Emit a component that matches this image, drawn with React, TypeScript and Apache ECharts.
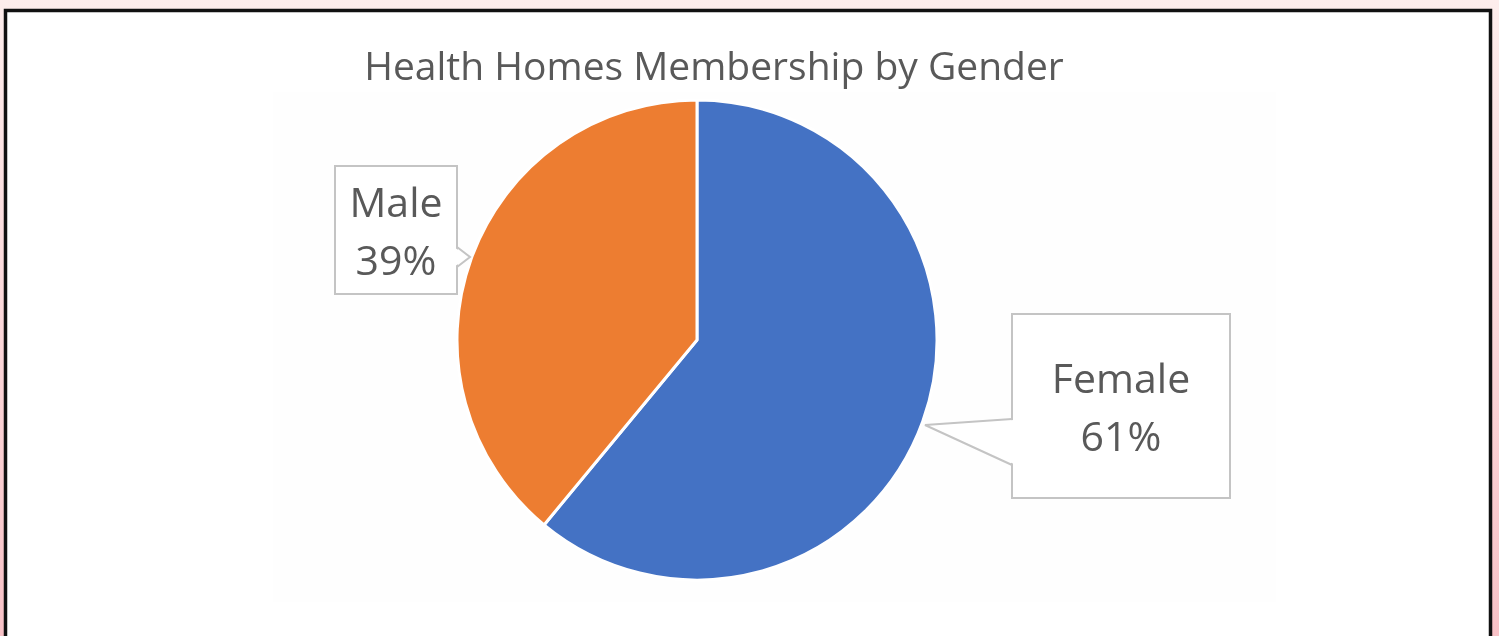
import React, { useEffect, useRef } from "react";
import * as echarts from "echarts";

const TITLE = "Health Homes Membership by Gender";
const categories = ["Female", "Male"];
const values = [61, 39];
const colors = ["#4472C4", "#ED7D31"];

const FONT = "'Open Sans', 'Noto Sans', sans-serif";

// label box styles (by category)
const labelBox: Record<string, any> = {
  Female: { width: 216, padding: [33, 0, 33, 0], cx: 1121, cy: 406 },
  Male: { width: 120, padding: [5, 0, 5, 0], cx: 396, cy: 230 },
};

export default function App() {
  const ref = useRef<HTMLDivElement>(null);
  useEffect(() => {
    if (!ref.current) return;
    const chart = echarts.init(ref.current, undefined, { renderer: "svg" });
    const data = categories.map((name, i) => {
      const b = labelBox[name];
      return {
        name,
        value: values[i],
        itemStyle: { color: colors[i] },
        label: {
          padding: b.padding,
          rich: {
            t: {
              width: b.width,
              align: "center",
              fontSize: 41,
              lineHeight: 58,
              color: "#595959",
              fontFamily: FONT,
            },
          },
        },
      };
    });
    chart.setOption({
      animation: false,
      graphic: [
        {
          type: "rect",
          z: -100,
          silent: true,
          shape: { x: 0, y: 0, width: 1499, height: 636 },
          style: {
            fill: new echarts.graphic.LinearGradient(0, 0, 0, 1, [
              { offset: 0, color: "#FDEDEC" },
              { offset: 1, color: "#F8C2C7" },
            ]),
          },
        },
        {
          type: "rect",
          z: -99,
          silent: true,
          shape: { x: 5.5, y: 10.5, width: 1485, height: 700 },
          style: { fill: "#ffffff", stroke: "#111111", lineWidth: 3.5 },
        },
        {
          type: "rect",
          z: -98,
          silent: true,
          shape: { x: 273, y: 92, width: 1003, height: 510 },
          style: { fill: "#fefefe" },
        },
        {
          type: "polygon",
          z: 100,
          silent: true,
          shape: { points: [[1014, 420], [925, 425], [1014, 464]] },
          style: { fill: "#ffffff" },
        },
        {
          type: "polyline",
          z: 101,
          silent: true,
          shape: { points: [[1012, 419], [925, 425], [1012, 465]] },
          style: { stroke: "#c4c4c4", lineWidth: 2, fill: null },
        },
        {
          type: "polygon",
          z: 100,
          silent: true,
          shape: { points: [[455, 248], [470, 257], [455, 266]] },
          style: { fill: "#ffffff" },
        },
        {
          type: "polyline",
          z: 101,
          silent: true,
          shape: { points: [[457, 247], [470, 257], [457, 267]] },
          style: { stroke: "#c4c4c4", lineWidth: 2, fill: null },
        },
      ],
      title: {
        text: TITLE,
        left: 709,
        top: 40,
        textAlign: "center",
        textStyle: {
          fontFamily: FONT,
          fontSize: 39,
          fontWeight: "normal",
          color: "#595959",
        },
      },
      series: [
        {
          type: "pie",
          center: [697, 340],
          radius: 240,
          startAngle: 90,
          clockwise: true,
          data,
          itemStyle: { borderColor: "#ffffff", borderWidth: 3 },
          emphasis: { disabled: true },
          label: {
            show: true,
            position: "outside",
            formatter: "{t|{b}}\n{t|{d}%}",
            backgroundColor: "#ffffff",
            borderColor: "#c4c4c4",
            borderWidth: 2,
          },
          labelLine: { show: false },
          labelLayout: (p: any) => {
            const b = labelBox[categories[p.dataIndex]];
            return { x: b.cx, y: b.cy, align: "center", verticalAlign: "middle" };
          },
        },
      ],
    });
    return () => chart.dispose();
  }, []);
  return (
    <div
      ref={ref}
      style={{ position: "fixed", left: 0, top: 0, width: 1499, height: 636 }}
    />
  );
}
